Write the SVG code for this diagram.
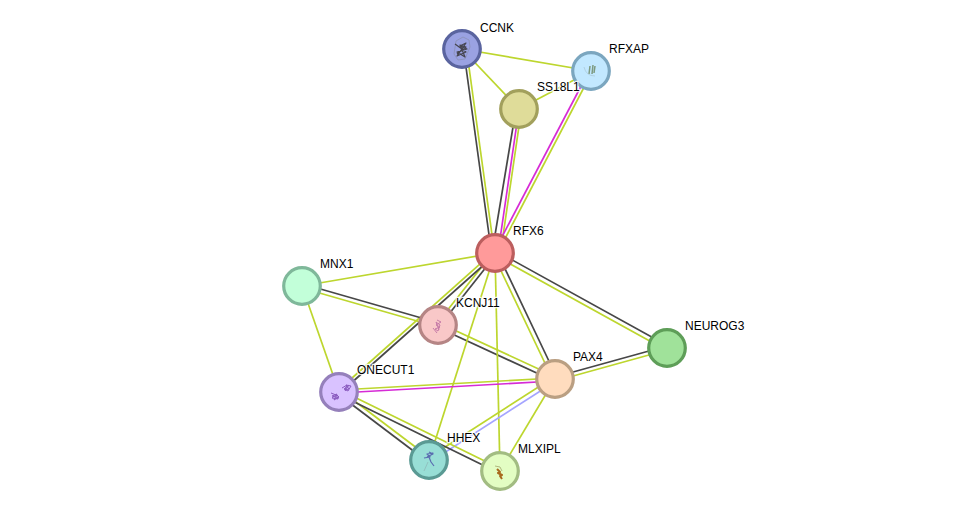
<svg xmlns="http://www.w3.org/2000/svg" width="976" height="516" viewBox="0 0 976 516">
<style>
text{font-family:"Liberation Sans",Arial,sans-serif;font-size:12px;fill:#000;paint-order:stroke;stroke:#fff;stroke-width:2.5px;stroke-opacity:.85}
line{stroke-width:1.7;fill:none}
.y{stroke:#bdd62e}.d{stroke:#474747}.m{stroke:#d62bd6}.b{stroke:#a5a5ff}
circle{stroke-width:3.2}
.g{fill:none;stroke-linejoin:round}
</style>
<rect width="976" height="516" fill="#fff"/>
<g id="connectors">
<line class="y" x1="462" y1="49" x2="591" y2="71"/>
<line class="y" x1="462" y1="49" x2="519" y2="109"/>
<line class="y" x1="519" y1="109" x2="591" y2="71"/>
<line class="d" x1="463.500" y1="49" x2="491.500" y2="253"/>
<line class="y" x1="466.500" y1="49" x2="494.500" y2="253"/>
<line class="d" x1="516" y1="109" x2="492" y2="253"/>
<line class="m" x1="519" y1="109" x2="498" y2="253"/>
<line class="y" x1="521.500" y1="109" x2="500.500" y2="253"/>
<line class="m" x1="589" y1="71" x2="494" y2="252"/>
<line class="y" x1="592" y1="72" x2="497" y2="254"/>
<line class="y" x1="495" y1="253" x2="302" y2="286"/>
<line class="y" x1="493.500" y1="252" x2="436.500" y2="324"/>
<line class="d" x1="496.500" y1="254" x2="439.500" y2="326"/>
<line class="y" x1="494" y1="251.500" x2="338" y2="390.500"/>
<line class="d" x1="496" y1="254" x2="340" y2="393"/>
<line class="d" x1="303" y1="284" x2="439" y2="323"/>
<line class="y" x1="302" y1="288" x2="438" y2="327"/>
<line class="y" x1="302" y1="286" x2="339" y2="392"/>
<line class="y" x1="439" y1="323" x2="556" y2="377"/>
<line class="d" x1="437" y1="327" x2="554" y2="381"/>
<line class="y" x1="495" y1="253" x2="429" y2="460"/>
<line class="y" x1="495" y1="253" x2="500" y2="471"/>
<line class="y" x1="493" y1="254" x2="553" y2="380"/>
<line class="d" x1="497" y1="252" x2="557" y2="378"/>
<line class="d" x1="496" y1="251" x2="668" y2="346"/>
<line class="y" x1="494" y1="255" x2="666" y2="350"/>
<line class="d" x1="555" y1="377" x2="667" y2="346"/>
<line class="y" x1="555" y1="381" x2="667" y2="350"/>
<line class="y" x1="339" y1="390" x2="555" y2="378"/>
<line class="m" x1="339" y1="393" x2="555" y2="381"/>
<line class="y" x1="554" y1="377" x2="428" y2="458"/>
<line class="b" x1="556" y1="381" x2="430" y2="462"/>
<line class="y" x1="555" y1="379" x2="500" y2="471"/>
<line class="d" x1="338" y1="394" x2="428" y2="462"/>
<line class="y" x1="340" y1="390" x2="430" y2="458"/>
<line class="d" x1="338" y1="394" x2="499" y2="473"/>
<line class="y" x1="340" y1="390" x2="501" y2="469"/>
</g>
<g id="CCNK"><circle cx="462" cy="49" r="18.300" fill="#9aa2e2" stroke="#5a649f"/><path class="g" stroke="#8a8fb0" stroke-width=".7" d="M456 41l7-4 6 3 1 7-5 12-7 1-4-6z"/><path class="g" stroke="#45454f" stroke-width="1.2" d="M455 44l11 8-9 4 9-13-6 3 7 3-10 3 8 5-5-12 6 2-9 7"/></g>
<g id="RFXAP"><circle cx="591" cy="71" r="18.300" fill="#c2e8ff" stroke="#7ba6bf"/><path class="g" stroke="#7d9a80" stroke-width="1.5" d="M590 66l-1 8M593 65l-1 9M595 66l-1 7"/><path class="g" stroke="#a9c6d4" stroke-width=".7" d="M584 67q2 9 11 9"/></g>
<g id="SS18L1"><circle cx="519" cy="109" r="18.300" fill="#dfdc99" stroke="#a2a05c"/></g>
<g id="RFX6"><circle cx="495" cy="253" r="18.300" fill="#ff9a9a" stroke="#bc5e5e"/></g>
<g id="MNX1"><circle cx="302" cy="286" r="18.300" fill="#c2ffd9" stroke="#7fb89a"/></g>
<g id="KCNJ11"><circle cx="438" cy="325" r="18.300" fill="#f9c8c8" stroke="#b58585"/><path class="g" stroke="#c77ba8" stroke-width="1" d="M437 320l4 2-5 3 4 2-5 2 3 2 2-6-4-3 3 8M433 328l4 5"/></g>
<g id="ONECUT1"><circle cx="339" cy="392" r="18.300" fill="#d9c2ff" stroke="#9580bb"/><path class="g" stroke="#8b5cc0" stroke-width="1" d="M331 393l5 2-4 3 6 1-2-5 3 3-5 3 3-6-5 2 7 2M342 388l5-3-2 5 4-1-3-4 5 1-3 5-4-2 5-4-4 6"/></g>
<g id="PAX4"><circle cx="555" cy="379" r="18.300" fill="#ffdcbe" stroke="#ba9f82"/></g>
<g id="NEUROG3"><circle cx="667" cy="348" r="18.300" fill="#a0e29a" stroke="#5e9e58"/></g>
<g id="HHEX"><circle cx="429" cy="460" r="18.300" fill="#98ded6" stroke="#5a9a94"/><path class="g" stroke="#5a6cb0" stroke-width="1.2" d="M424 458l6-1-3-3 6-1-4 4 2 5 3 4M429 452l4 2-6 3"/><path class="g" stroke="#8db5b5" stroke-width=".7" d="M428 462l-4 9"/></g>
<g id="MLXIPL"><circle cx="500" cy="471" r="18.300" fill="#e3fdc3" stroke="#a2bc82"/><path class="g" stroke="#a8691e" stroke-width="2" d="M497 469l3 3-2 1 4 2-2 1 2 3"/><path class="g" stroke="#9a9a60" stroke-width=".7" d="M495 466l5 1 2 4"/></g>
<g id="labels"><text x="480" y="32">CCNK</text><text x="609" y="53">RFXAP</text><text x="537" y="91">SS18L1</text><text x="513" y="235">RFX6</text><text x="320" y="268">MNX1</text><text x="456" y="307">KCNJ11</text><text x="357" y="374">ONECUT1</text><text x="573" y="361">PAX4</text><text x="685" y="330">NEUROG3</text><text x="447" y="442">HHEX</text><text x="518" y="453">MLXIPL</text></g>
</svg>
